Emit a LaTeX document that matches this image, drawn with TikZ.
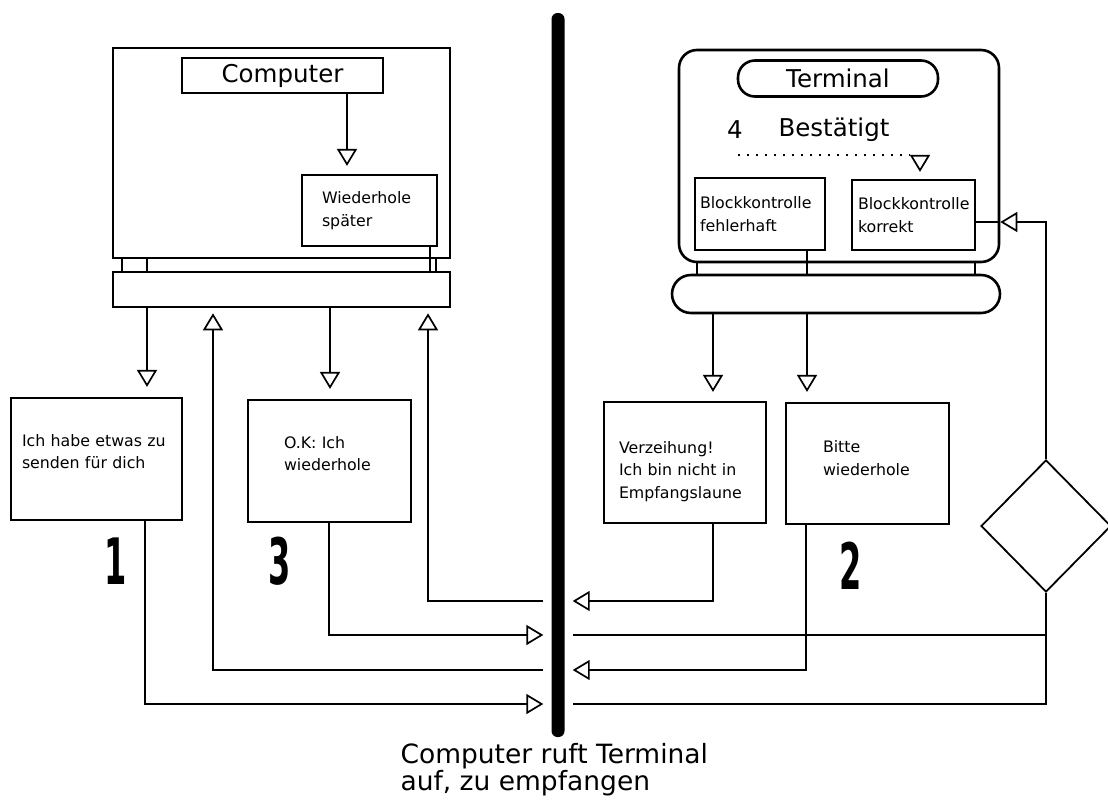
\documentclass[tikz,border=0pt]{standalone}
\usepackage{fontspec}
\setmainfont{DejaVu Sans}
\usepackage{graphicx}
\usetikzlibrary{shapes,arrows,positioning,calc,arrows.meta}

\newcommand{\smalltext}{\fontsize{15.8}{22.5}\selectfont}
\newcommand{\labeltext}{\fontsize{24.5}{28}\selectfont}
\newcommand{\captiontext}{\fontsize{26.5}{27}\selectfont}
\newcommand{\bigdigit}[1]{\scalebox{0.5}[1]{\fontsize{64}{64}\selectfont\bfseries #1}}

\tikzset{
    boxframe/.style={draw, line width=2.6pt, inner sep=0pt},
    msg/.style={draw, line width=2.2pt, align=left, font=\smalltext, inner ysep=0pt},
    lift/.style={text depth=#1},
    link/.style={line width=1.7pt},
    arr/.style={link, -{Triangle[open, length=17pt, width=20pt]}},
    dotline/.style={line width=2pt, dash pattern=on 2pt off 7pt}
}

\begin{document}
\begin{tikzpicture}[x=1pt, y=-1pt]
    \useasboundingbox[fill=white] (0,0) rectangle (1108,804);

    % Computer
    \node[boxframe, minimum width=337, minimum height=210] (cscreen) at (281.5,153) {};
    \node[boxframe, minimum width=201, minimum height=35, font=\labeltext] (clabel) at (282.5,75.5) {Computer};
    \node[msg, text width=95, inner xsep=20, minimum height=71] (cwait) at (369.5,210.5) {Wiederhole\\später};
    \node[boxframe, minimum width=337, minimum height=35] (cbase) at (281.5,289.5) {};

    % Terminal
    \node[boxframe, rounded corners=18, minimum width=320, minimum height=212] (tscreen) at (839,156) {};
    \node[boxframe, rounded corners=17, minimum width=200, minimum height=36, font=\labeltext] (tlabel) at (838,78.5) {Terminal};
    \node[font=\labeltext] (four) at (735,130) {4};
    \node[font=\labeltext] (ok) at (834,130) {Bestätigt};
    \node[msg, text width=120, inner xsep=5, minimum height=72] (faulty) at (760,214) {Blockkontrolle\\fehlerhaft};
    \node[msg, text width=111, inner xsep=6, minimum height=70] (correct) at (913.5,215) {Blockkontrolle\\korrekt};
    \node[boxframe, rounded corners=19, minimum width=328, minimum height=38] (tbase) at (836,294) {};

    % Leitung
    \node[fill=black, rounded corners=6, inner sep=0pt, minimum width=13, minimum height=724] (bar) at (558,375) {};

    % Meldungen
    \node[msg, lift=38pt, text width=149, inner xsep=11, minimum height=122] (send) at (96.5,459) {Ich habe etwas zu\\senden für dich};
    \node[msg, lift=38pt, text width=91, inner xsep=36, minimum height=122] (repeat) at (329.5,461) {O.K: Ich\\wiederhole};
    \node[msg, lift=31pt, text width=132, inner xsep=15, minimum height=121] (sorry) at (685,462.5) {Verzeihung!\\Ich bin nicht in\\Empfangslaune};
    \node[msg, lift=34pt, text width=89, inner xsep=37, minimum height=121] (again) at (867.5,463.5) {Bitte\\wiederhole};
    \node[diamond, draw, line width=1.8pt, inner sep=0pt, minimum width=130, minimum height=132] (check) at (1046,526) {};

    \node (one) at (116,561) {\bigdigit{1}};
    \node (three) at (280,561) {\bigdigit{3}};
    \node (two) at (851,566) {\bigdigit{2}};

    \node[anchor=base west, align=left, font=\captiontext] (caption) at (397,790) {Computer ruft Terminal\\auf, zu empfangen};

    % Stuetzen
    \foreach \x in {122,147,436}
        \draw[link] (cscreen.south -| \x,0) -- (cbase.north -| \x,0);
    \draw[link] (cwait.south -| 430,0) -- (cbase.north -| 430,0);
    \foreach \x in {697,975}
        \draw[link] (tscreen.south -| \x,0) -- (tbase.north -| \x,0);
    \draw[link] (faulty.south -| 807,0) -- (tbase.north -| 807,0);

    % Pfeile oben
    \draw[arr, shorten >=8] (clabel.south -| 347,0) -- (cwait.north -| 347,0);
    \draw[dotline] (738,155) -- (910,155);
    \coordinate (dotend) at (920,155);
    \draw[arr, shorten >=7] (dotend) -- (correct.north -| dotend);
    \draw[arr, shorten >=10] (cbase.south -| 147,0) -- (send.north -| 147,0);
    \draw[arr, shorten >=10] (cbase.south -| 330,0) -- (repeat.north -| 330,0);
    \draw[arr, shorten >=9] (tbase.south -| 713,0) -- (sorry.north -| 713,0);
    \draw[arr, shorten >=10] (tbase.south -| 807,0) -- (again.north -| 807,0);

    % Pfeile unten
    \draw[arr, shorten >=8] (send.south -| 145,0) |- (bar.west |- 0,704);
    \draw[arr, shorten >=8] (repeat.south -| 329,0) |- (bar.west |- 0,635);
    \draw[arr, shorten <=8, shorten >=5] (bar.west |- 0,670) -| (cbase.south -| 213,0);
    \draw[arr, shorten <=8, shorten >=5] (bar.west |- 0,601) -| (cbase.south -| 428,0);
    \draw[arr, shorten >=8] (sorry.south -| 713,0) |- (bar.east |- 0,601);
    \draw[arr, shorten >=8] (again.south -| 806,0) |- (bar.east |- 0,670);
    \draw[link, shorten >=8] (check.south) |- (bar.east |- 0,704);
    \draw[link, shorten >=8] (check.south |- 0,635) -- (bar.east |- 0,635);
    \draw[arr] (check.north) |- (tscreen.east |- 0,222);
    \draw[link] (tscreen.east |- 0,222) -- (correct.east |- 0,222);
\end{tikzpicture}
\end{document}
